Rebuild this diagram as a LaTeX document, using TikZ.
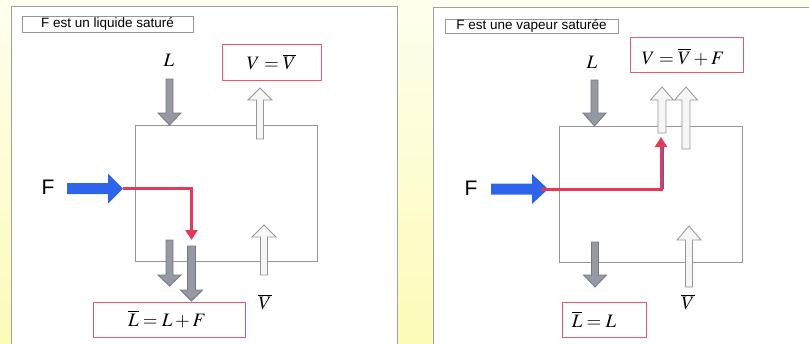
\documentclass[tikz,border=0pt]{standalone}
\usepackage{mathptmx}
\usepackage{fontspec}
\setmainfont{Liberation Serif}
\newfontfamily\arialfont{Liberation Sans}
\usetikzlibrary{arrows.meta}

\definecolor{bgtop}{RGB}{255,255,238}
\definecolor{bgbot}{RGB}{251,251,184}
\definecolor{panelline}{RGB}{160,160,160}
\definecolor{boxline}{RGB}{150,150,150}
\definecolor{grayfill}{RGB}{148,153,163}
\definecolor{grayline}{RGB}{115,120,130}
\definecolor{hollowfill}{RGB}{246,246,246}
\definecolor{hollowline}{RGB}{150,150,150}
\definecolor{feedblue}{RGB}{45,100,235}
\definecolor{flowred}{RGB}{228,58,88}
\definecolor{eqred}{RGB}{228,90,112}

% vertical block arrow: style, x, y tail, y head base, y tip, half shaft, half head
\newcommand\vblk[7]{%
  \path[#1] ({#2-#6},#3) -- ({#2+#6},#3) -- ({#2+#6},#4) -- ({#2+#7},#4)
    -- (#2,#5) -- ({#2-#7},#4) -- ({#2-#6},#4) -- cycle;}
% horizontal block arrow: style, y, x tail, x head base, x tip, half shaft, half head
\newcommand\hblk[7]{%
  \path[#1] (#3,{#2-#6}) -- (#4,{#2-#6}) -- (#4,{#2-#7}) -- (#5,#2)
    -- (#4,{#2+#7}) -- (#4,{#2+#6}) -- (#3,{#2+#6}) -- cycle;}

\tikzset{
  panel/.style={draw=panelline, line width=1pt, fill=white},
  titlebox/.style={draw=boxline, line width=0.8pt, fill=white, inner sep=0pt,
    font=\arialfont\fontsize{13.5}{15}\selectfont},
  column/.style={draw=boxline, line width=0.8pt},
  eqbox/.style={draw=eqred, line width=1pt, inner sep=0pt},
  mathlbl/.style={font=\fontsize{19}{21}\selectfont, inner sep=0pt},
  feedlbl/.style={font=\arialfont\fontsize{21}{23}\selectfont, inner sep=0pt},
  liquid/.style={fill=grayfill, draw=grayline, line width=0.8pt},
  vapour/.style={fill=hollowfill, draw=hollowline, line width=0.8pt},
  feed/.style={fill=feedblue},
  route/.style={draw=flowred, line width=3pt,
    -{Triangle[width=12pt,length=10pt]}},
}

\begin{document}
\begin{tikzpicture}[x=1pt, y=-1pt]
\useasboundingbox (0,0) rectangle (809,343);
\clip (0,0) rectangle (809,343);

% background
\shade[top color=bgtop, bottom color=bgbot] (0,0) rectangle (809,343);

% ---------------- left panel: saturated liquid feed ----------------
\draw[panel] (11,6) rectangle (397,360);
\node[titlebox, minimum width=171pt, minimum height=16pt] (t1) at (107.5,24) {F est un liquide saturé};
\draw[column] (135,125) rectangle (317,261);

\node[mathlbl] (L1) at (169,60) {$L$};
\node[eqbox, minimum width=99pt, minimum height=36pt] (eqV1) at (271.5,62) {};
\node[mathlbl] at (eqV1.center) {$V=\overline{V}$};
\node[mathlbl] (Vb1) at (265,302) {$\overline{V}$};
\node[eqbox, minimum width=152pt, minimum height=35pt] (eqL1) at (169,319.5) {};
\node[mathlbl] at (167,319) {$\overline{L}=L+F$};
\node[feedlbl] (F1) at (48,187) {F};

% liquid down, vapour up
\vblk{liquid}{169.5}{79}{113}{125}{3.5}{11.5}
\vblk{vapour}{260}{139}{100}{88}{3.5}{12}
\vblk{liquid}{169.5}{240}{275}{286}{3.5}{11.5}
\vblk{liquid}{191.5}{246}{290}{301}{4}{11}
\vblk{vapour}{264}{275}{237}{225}{3.5}{12}

% feed
\hblk{feed}{188.5}{67}{108}{123}{5.5}{15}
\coordinate (f1) at (123,188.5);
\coordinate (d1) at (191.5,240);
\draw[route] (f1) -| (d1);

% ---------------- right panel: saturated vapour feed ----------------
\draw[panel] (433,7) rectangle (830,360);
\node[titlebox, minimum width=173pt, minimum height=14pt] (t2) at (531.5,26) {F est une vapeur saturée};
\draw[column] (559,126) rectangle (742,262);

\node[mathlbl] (L2) at (592,62) {$L$};
\node[eqbox, minimum width=113pt, minimum height=35pt] (eqV2) at (686.5,54.5) {};
\node[mathlbl] at (683,57) {$V=\overline{V}+F$};
\node[mathlbl] (Vb2) at (688,302) {$\overline{V}$};
\node[eqbox, minimum width=84pt, minimum height=35pt] (eqL2) at (604,319.5) {};
\node[mathlbl] at (594,319) {$\overline{L}=L$};
\node[feedlbl] (F2) at (471,188) {F};

\vblk{liquid}{594.5}{80}{113}{126}{3.5}{11.5}
\vblk{vapour}{662}{133}{100}{87}{4}{11.5}
\vblk{vapour}{686}{149}{100}{87}{4}{11.5}
\vblk{liquid}{595}{242}{275}{287}{3.5}{11.5}
\vblk{vapour}{689}{287}{240}{226}{3.5}{12}

\hblk{feed}{189}{491}{532}{548}{5.5}{15}
\coordinate (f2) at (541,189);
\coordinate (u2) at (661,137);
\draw[feedblue, line width=1pt] (663,189) -- (663,147);
\draw[route] (f2) -| (u2);
\end{tikzpicture}
\end{document}
